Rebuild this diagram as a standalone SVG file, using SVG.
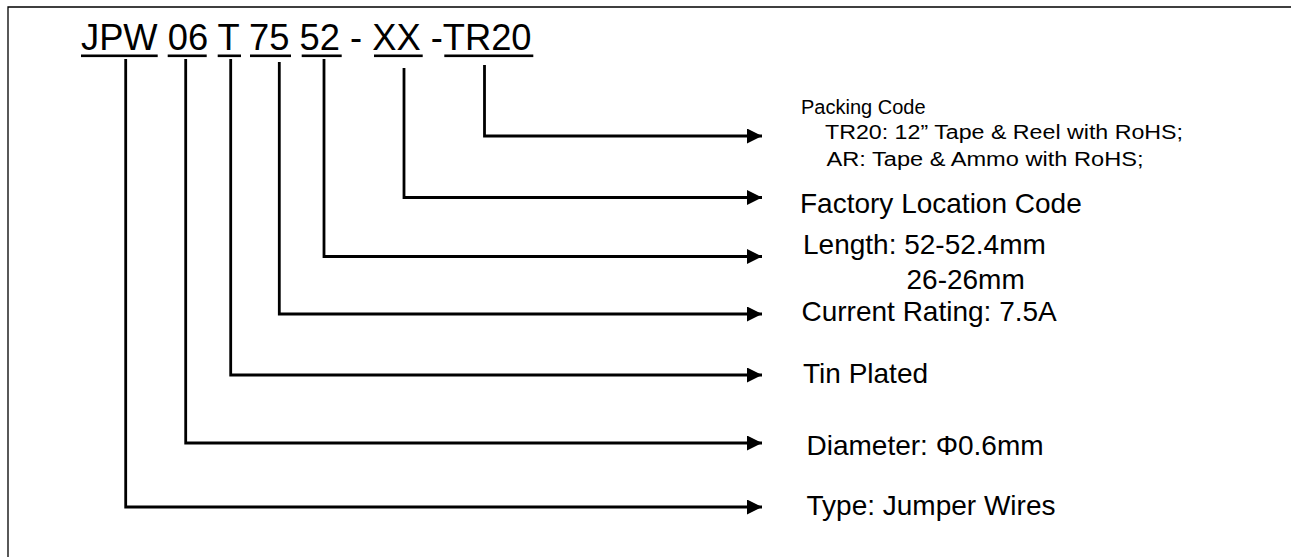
<svg xmlns="http://www.w3.org/2000/svg" width="1291" height="557" viewBox="0 0 1291 557">
<style>
text{font-family:"Liberation Sans",Arial,sans-serif;fill:#000}
.t{font-size:36.3px}
.l{font-size:28px}
.s{font-size:20px}
.p{font-size:20px}
.c{fill:none;stroke:#000;stroke-width:2.8;stroke-linejoin:miter}
.u{fill:#000}
</style>
<defs>
<marker id="ah" markerUnits="userSpaceOnUse" markerWidth="16" markerHeight="16" refX="15" refY="7.5" orient="auto" viewBox="0 0 16 16">
<path d="M0,0 L15,7.5 L0,15 Z" fill="#000"/>
</marker>
</defs>
<rect x="0" y="0" width="1291" height="557" fill="#fff"/>
<path d="M8,557 V7 H1291" fill="none" stroke="#000" stroke-width="1.3"/>
<g id="code">
<text class="t" x="81" y="50">JPW 06 T 75 52 - XX -TR20</text>
<rect class="u" x="81" y="54.5" width="76.7" height="2.6"/>
<rect class="u" x="167.7" y="54.5" width="39" height="2.6"/>
<rect class="u" x="217.7" y="54.5" width="23.3" height="2.6"/>
<rect class="u" x="250" y="54.5" width="41" height="2.6"/>
<rect class="u" x="301.7" y="54.5" width="40" height="2.6"/>
<rect class="u" x="374" y="54.5" width="48.7" height="2.6"/>
<rect class="u" x="444.3" y="54.5" width="89" height="2.6"/>
</g>
<g id="connectors">
<path class="c" d="M484.5,65 V136 H762" marker-end="url(#ah)"/>
<path class="c" d="M404,68 V197.5 H762" marker-end="url(#ah)"/>
<path class="c" d="M324,59 V256.5 H762" marker-end="url(#ah)"/>
<path class="c" d="M279.3,62 V314 H762" marker-end="url(#ah)"/>
<path class="c" d="M230.7,59 V375 H762" marker-end="url(#ah)"/>
<path class="c" d="M185.7,59 V443 H762" marker-end="url(#ah)"/>
<path class="c" d="M125.7,59 V507 H762" marker-end="url(#ah)"/>
</g>
<g id="packing">
<text class="p" x="801" y="114">Packing Code</text>
<text class="s" x="825" y="139" textLength="358" lengthAdjust="spacingAndGlyphs">TR20: 12” Tape &amp; Reel with RoHS;</text>
<text class="s" x="826.5" y="166" textLength="317" lengthAdjust="spacingAndGlyphs">AR: Tape &amp; Ammo with RoHS;</text>
</g>
<g id="factory"><text class="l" x="800" y="213">Factory Location Code</text></g>
<g id="length">
<text class="l" x="803" y="254">Length: 52-52.4mm</text>
<text class="l" x="906.5" y="289">26-26mm</text>
</g>
<g id="current"><text class="l" x="801.5" y="321">Current Rating: 7.5A</text></g>
<g id="tin"><text class="l" x="803" y="383">Tin Plated</text></g>
<g id="diameter"><text class="l" x="806.5" y="455">Diameter: Φ0.6mm</text></g>
<g id="type"><text class="l" x="806.5" y="515">Type: Jumper Wires</text></g>
</svg>
